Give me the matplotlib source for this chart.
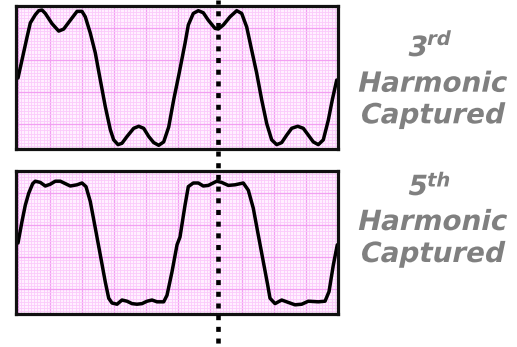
import numpy as np
import matplotlib
matplotlib.use('Agg')
import matplotlib.pyplot as plt
from matplotlib.transforms import blended_transform_factory, Affine2D
from matplotlib.lines import Line2D
from matplotlib.patheffects import AbstractPathEffect

# Waveform with 3rd harmonic (phase in degrees, normalised level)
phase_3rd = [0, 20.3, 27.7, 38.9, 46.6, 54, 61.4, 76.5, 91.6, 102.8, 117.7, 132.8, 144,
             151.4, 162.7, 173.9, 185.2, 196.4, 207.7, 215.3, 225, 234, 245.3, 260.3,
             271.6, 282.8, 294.1, 305.3, 316.6, 327.8, 339.1, 350.3, 362.3, 375.8, 383.2,
             394.4, 405.7, 416.9, 428.2, 443.3, 450.7, 462, 477, 492.1, 503.3, 514.6,
             525.8, 537.1, 548.3, 559.6, 570.8, 582.1, 593.3, 604.6, 615.8, 629.3, 641.9,
             653.2, 664.4, 675.7, 686.9, 698.2, 707.2, 717.1]
level_3rd = [0, 0.60, 0.81, 0.93, 0.99, 1.00, 0.95, 0.80, 0.69, 0.72, 0.85, 0.98, 0.98,
             0.90, 0.66, 0.37, -0.03, -0.42, -0.76, -0.91, -0.98, -0.96, -0.86, -0.74,
             -0.71, -0.74, -0.86, -0.95, -0.99, -0.94, -0.72, -0.32, 0.06, 0.51, 0.78,
             0.95, 0.99, 0.96, 0.85, 0.73, 0.72, 0.78, 0.90, 0.99, 0.95, 0.75,
             0.41, 0.07, -0.32, -0.67, -0.91, -0.98, -0.95, -0.84, -0.74, -0.71, -0.74,
             -0.84, -0.94, -0.98, -0.91, -0.62, -0.32, -0.03]

# Waveform with 5th harmonic
phase_5th = [0, 9, 16.4, 24.1, 33.1, 38.9, 50.2, 61.4, 72.7, 83.9, 95.2, 106.4, 117.7,
             132.8, 144, 153, 162.7, 173.9, 185.2, 196.4, 204.1, 211.5, 222.8, 234, 245.3,
             256.5, 267.8, 279, 290.3, 301.5, 312.8, 327.8, 335.3, 346.5, 357.8, 364.5,
             375.8, 383.2, 394.4, 405.7, 416.9, 428.2, 447.1, 458.3, 473.2, 488.3, 506.9,
             518.2, 529.4, 540.7, 551.9, 561.8, 567, 578.3, 593.3, 608.2, 623.3, 638.3,
             653.2, 675.7, 690.8, 699.8, 709.4, 718.4]
level_5th = [0, 0.36, 0.63, 0.83, 0.99, 1.03, 1.01, 0.95, 0.98, 1.03, 1.03, 0.99, 0.95,
             0.97, 1.00, 0.94, 0.69, 0.25, -0.20, -0.65, -0.92, -1.00, -1.02, -0.95, -0.97,
             -1.01, -1.02, -1.01, -0.97, -0.95, -0.98, -0.98, -0.87, -0.48, -0.03, 0.10,
             0.63, 0.94, 1.00, 1.00, 0.95, 0.96, 1.03, 1.01, 0.96, 0.97, 1.00,
             0.88, 0.58, 0.13, -0.31, -0.70, -0.92, -1.01, -0.95, -0.99, -1.03, -1.02,
             -0.97, -0.98, -0.97, -0.81, -0.37, -0.03]

cursor_phase = 450
labels = [("3", "rd"), ("5", "th")]

W, H = 517, 347
fig = plt.figure(figsize=(W / 100, H / 100), dpi=100)
fig.patch.set_facecolor('white')

def fx(px):
    return px / W

def fy(py):
    return 1 - py / H

def make_ax(top, bottom, ylim, ymajor0, ystep):
    ax = fig.add_axes([fx(16), fy(bottom), fx(338) - fx(16), fy(top) - fy(bottom)])
    ax.set_facecolor('#fff0ff')
    ax.set_xlim(-4.5, 720)
    ax.set_ylim(*ylim)
    # grid
    for x in np.arange(0, 720.01, 7.2):
        major = abs((x / 72) - round(x / 72)) < 1e-6
        ax.axvline(x, color='#f2a0f2' if major else '#fbcafb',
                   lw=0.9 if major else 0.6, zorder=1)
    ymin, ymax = ylim
    k0 = int(np.floor((ymin - ymajor0) / (ystep / 10))) - 1
    k1 = int(np.ceil((ymax - ymajor0) / (ystep / 10))) + 1
    for k in range(k0, k1 + 1):
        y = ymajor0 + k * ystep / 10
        major = k % 10 == 0
        ax.axhline(y, color='#f2a0f2' if major else '#fbcafb',
                   lw=0.9 if major else 0.6, zorder=1)
    ax.set_xticks([])
    ax.set_yticks([])
    for s in ax.spines.values():
        s.set_linewidth(2.3)
        s.set_color('#111111')
        s.set_zorder(5)
    return ax

ax1 = make_ax(5.8, 148.5, (-1.037, 1.062), -0.206, 0.4706)
ax1.plot(phase_3rd, level_3rd, color='black', lw=2.5, solid_joinstyle='round',
         solid_capstyle='round', zorder=3)

ax2 = make_ax(171, 314, (-1.183, 1.2), 0.833, 0.5333)
ax2.plot(phase_5th, level_5th, color='black', lw=2.5, solid_joinstyle='round',
         solid_capstyle='round', zorder=3)

# dotted cursor line across the whole figure
trans = blended_transform_factory(ax1.transData, fig.transFigure)
cursor = Line2D([cursor_phase, cursor_phase], [1, 0], transform=trans, color='black',
                lw=3.3, linestyle=(0.2, (1.1, 1.45)), dash_capstyle='butt',
                solid_capstyle='butt', zorder=10)
cursor.set_clip_on(False)
fig.add_artist(cursor)


class Slant(AbstractPathEffect):
    """Shear glyph outlines to obtain an oblique look."""
    def __init__(self, angle=12):
        super().__init__()
        self.angle = angle

    def draw_path(self, renderer, gc, tpath, affine, rgbFace=None):
        new_affine = Affine2D().skew_deg(self.angle, 0) + affine
        renderer.draw_path(gc, tpath, new_affine, rgbFace)


gray = '#808080'
kw = dict(color=gray, fontweight='bold', family='DejaVu Sans', path_effects=[Slant(12)])
# 3rd harmonic
fig.text(fx(426), fy(56), labels[0][0], ha='right', va='baseline', fontsize=20, **kw)
fig.text(fx(426), fy(45), labels[0][1], ha='left', va='baseline', fontsize=14, **kw)
fig.text(fx(431), fy(91.7), "Harmonic", ha='center', va='baseline', fontsize=20, **kw)
fig.text(fx(431), fy(123.3), "Captured", ha='center', va='baseline', fontsize=20, **kw)
# 5th harmonic
fig.text(fx(426), fy(195), labels[1][0], ha='right', va='baseline', fontsize=20, **kw)
fig.text(fx(426), fy(186.5), labels[1][1], ha='left', va='baseline', fontsize=14, **kw)
fig.text(fx(431), fy(230), "Harmonic", ha='center', va='baseline', fontsize=20, **kw)
fig.text(fx(431), fy(262), "Captured", ha='center', va='baseline', fontsize=20, **kw)

fig.savefig('out.png', dpi=100)
